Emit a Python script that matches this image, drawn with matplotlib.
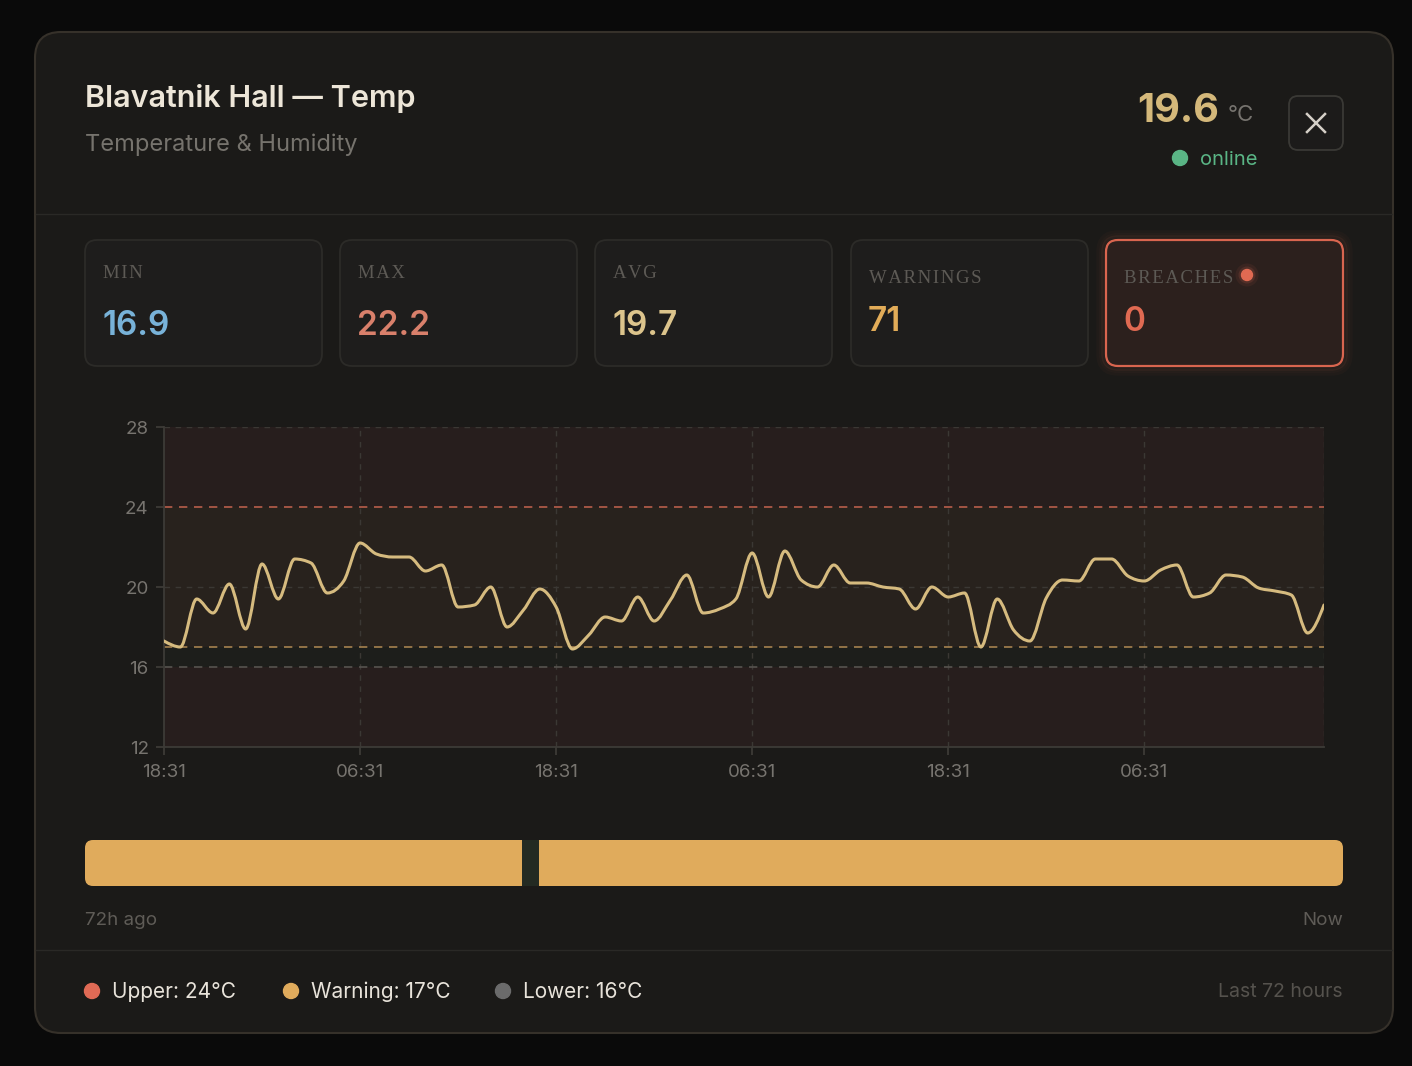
import numpy as np
import matplotlib
matplotlib.use("Agg")
import matplotlib.pyplot as plt
from matplotlib.patches import FancyBboxPatch, Circle, PathPatch
from matplotlib.path import Path

# --- datos ---
horas = list(range(72))
temperaturas = [17.3, 17.0, 19.4, 18.7, 20.15, 17.9, 21.15, 19.4, 21.4, 21.2,
                19.7, 20.3, 22.2, 21.65, 21.5, 21.5, 20.8, 21.1, 19.0, 19.1,
                20.0, 18.0, 18.85, 19.9, 19.0, 16.9, 17.6, 18.5, 18.3, 19.5,
                18.3, 19.35, 20.6, 18.7, 18.9, 19.4, 21.7, 19.5, 21.8, 20.35,
                20.0, 21.1, 20.2, 20.2, 20.0, 19.9, 18.9, 20.0, 19.5, 19.7,
                17.0, 19.4, 17.85, 17.3, 19.45, 20.35, 20.3, 21.4, 21.4, 20.55,
                20.3, 20.85, 21.1, 19.5, 19.7, 20.6, 20.5, 19.95, 19.8, 19.6,
                17.7, 19.1]
estado = ["warn"] * 25 + ["ok"] + ["warn"] * 46

ticks_x = [0, 12, 24, 36, 48, 60]
etiquetas_x = ["18:31", "06:31", "18:31", "06:31", "18:31", "06:31"]
ticks_y = [12, 16, 20, 24, 28]

limite_sup = 24
limite_aviso = 17
limite_inf = 16

tarjetas = ["MIN", "MAX", "AVG", "WARNINGS", "BREACHES"]
valores_tarjetas = ["16.9", "22.2", "19.7", "71", "0"]
colores_tarjetas = ["#78b2d8", "#d9806b", "#dcc48c", "#e2ac58", "#e06a52"]

W, H = 1412, 1066
FUENTE = ["Inter", "DejaVu Sans"]
SERIF = ["Liberation Serif", "DejaVu Serif"]

plt.rcParams["font.family"] = FUENTE

fig = plt.figure(figsize=(W / 100, H / 100), dpi=100)
fig.patch.set_facecolor("#0a0a0a")

# capa de fondo en pixeles
bg = fig.add_axes([0, 0, 1, 1], zorder=0)
bg.set_xlim(0, W)
bg.set_ylim(H, 0)
bg.axis("off")


def caja(x0, y0, x1, y1, r, fc, ec, lw=1.0, z=1, alpha=1.0):
    p = FancyBboxPatch((x0 + r, y0 + r), (x1 - x0) - 2 * r, (y1 - y0) - 2 * r,
                       boxstyle=f"round,pad={r}", fc=fc, ec=ec, lw=lw,
                       zorder=z, alpha=alpha)
    bg.add_patch(p)
    return p


def espaciado(txt):
    # separacion entre letras como en las etiquetas de las tarjetas
    return "\u200a".join(txt)


# modal
caja(35, 32, 1393, 1033, 26, "#1b1a18", "#36312a", lw=1.5)
bg.plot([36, 1392], [214, 214], color="#2a2926", lw=1.0, zorder=2)
bg.plot([36, 1392], [950, 950], color="#2a2926", lw=1.0, zorder=2)

# cabecera
bg.text(85, 107, "Blavatnik Hall \u2014 Temp", fontsize=22, fontweight="semibold",
        color="#ede6d8", va="baseline", ha="left", zorder=3)
bg.text(85, 151, "Temperature & Humidity", fontsize=17, color="#76736d",
        va="baseline", ha="left", zorder=3)
bg.text(1219, 122, "19.6", fontsize=28.5, fontweight="bold", color="#d4b87a",
        va="baseline", ha="right", zorder=3)
bg.text(1228, 121, "\u00b0C", fontsize=16, color="#77746f", va="baseline",
        ha="left", zorder=3)
bg.add_patch(Circle((1180, 158), 7.5, color="#5ab585", zorder=3))
bg.text(1200, 165, "online", fontsize=14.5, color="#5ab585", va="baseline",
        ha="left", zorder=3)
caja(1289, 96, 1343, 150, 9, "#1c1b1a", "#3a3935", lw=1.3, z=3)
bg.plot([1307, 1325], [114, 132], color="#d5d0c8", lw=1.8, zorder=4)
bg.plot([1307, 1325], [132, 114], color="#d5d0c8", lw=1.8, zorder=4)

# tarjetas
xs_tarjeta = [85, 340, 595, 851, 1106]
for i, nombre in enumerate(tarjetas):
    x0 = xs_tarjeta[i]
    x1 = x0 + 237
    if nombre == "BREACHES":
        for k, a in zip([8, 5, 3], [0.03, 0.05, 0.08]):
            caja(x0 - k, 240 - k, x1 + k, 366 + k, 12 + k, "none", "#e06a52",
                 lw=2.5, z=2, alpha=a)
        caja(x0, 240, x1, 366, 12, "#2c201d", "#d9654f", lw=1.6, z=3)
    else:
        caja(x0, 240, x1, 366, 12, "#1e1d1c", "#2c2b28", lw=1.3, z=3)
    y_lab, y_val = (278, 335) if i < 3 else (283, 331)
    bg.text(x0 + 18, y_lab, espaciado(nombre), fontsize=13.5, family=SERIF,
            color="#5d5a55", va="baseline", ha="left", zorder=4)
    bg.text(x0 + 17, y_val, valores_tarjetas[i], fontsize=24, fontweight="semibold",
            color=colores_tarjetas[i], va="baseline", ha="left", zorder=4)
for k, a in zip([6, 3], [0.08, 0.15]):
    bg.add_patch(Circle((1247, 275), 5.5 + k, color="#e06a52", alpha=a, lw=0, zorder=4))
bg.add_patch(Circle((1247, 275), 5.5, color="#e06a52", zorder=5))

# barra de estado
x_ini, x_fin = 85, 1343
paso = (x_fin - x_ini) / len(estado)
caja(x_ini, 840, x_fin, 886, 8, "#e0ab5c", "none", z=3)
for i, e in enumerate(estado):
    if e == "ok":
        bg.add_patch(plt.Rectangle((x_ini + i * paso, 840), paso, 46,
                                   color="#232a22", lw=0, zorder=4))
bg.text(85, 925, "72h ago", fontsize=13.5, color="#5f5c57", va="baseline",
        ha="left", zorder=4)
bg.text(1343, 925, "Now", fontsize=13.5, color="#5f5c57", va="baseline",
        ha="right", zorder=4)

# pie
leyenda = [("Upper: 24\u00b0C", "#e06a55", 92), ("Warning: 17\u00b0C", "#e0ab5c", 291),
           ("Lower: 16\u00b0C", "#6b6b6b", 503)]
for txt, col, xc in leyenda:
    bg.add_patch(Circle((xc, 991), 7.5, color=col, zorder=4))
    bg.text(xc + 20, 992, txt, fontsize=15, color="#e8e3da", va="center",
            ha="left", zorder=4)
bg.text(1343, 992, "Last 72 hours", fontsize=14, color="#55524d", va="center",
        ha="right", zorder=4)

# --- grafico ---
ax = fig.add_axes([164 / W, (H - 747) / H, 1160 / W, 320 / H], zorder=1)
ax.set_facecolor("none")
ax.set_xlim(0, 71)
ax.set_ylim(12, 28)

ax.axhspan(12, limite_inf, color="#271e1d", lw=0, zorder=0)
ax.axhspan(limite_inf, limite_aviso, color="#1d1e1b", lw=0, zorder=0)
ax.axhspan(limite_aviso, limite_sup, color="#28221d", lw=0, zorder=0)
ax.axhspan(limite_sup, 28, color="#271e1d", lw=0, zorder=0)

gris = "#3b3834"
for t in ticks_x[1:] + [71]:
    ax.axvline(t, color=gris, lw=1, ls=(0, (4, 4)), zorder=1)
for t in [20, 28]:
    ax.axhline(t, color=gris, lw=1, ls=(0, (4, 4)), zorder=1)
ax.axhline(limite_sup, color="#b85e4b", lw=1.2, ls=(0, (5, 4)), zorder=2)
ax.axhline(limite_aviso, color="#a5824f", lw=1.2, ls=(0, (5, 4)), zorder=2)
ax.axhline(limite_inf, color="#56534f", lw=1.2, ls=(0, (5, 4)), zorder=2)

# curva monotona (como d3 curveMonotoneX) con beziers
x = np.array(horas, dtype=float)
y = np.array(temperaturas, dtype=float)
n = len(x)
h = np.diff(x)
s = np.diff(y) / h
t = np.zeros(n)
for i in range(1, n - 1):
    p = (s[i - 1] * h[i] + s[i] * h[i - 1]) / (h[i - 1] + h[i])
    t[i] = (np.sign(s[i - 1]) + np.sign(s[i])) * min(abs(s[i - 1]), abs(s[i]), 0.5 * abs(p))
t[0] = (3 * s[0] - t[1]) / 2
t[-1] = (3 * s[-1] - t[-2]) / 2
verts = [(x[0], y[0])]
codes = [Path.MOVETO]
for i in range(n - 1):
    d = h[i] / 3
    verts += [(x[i] + d, y[i] + d * t[i]), (x[i + 1] - d, y[i + 1] - d * t[i + 1]),
              (x[i + 1], y[i + 1])]
    codes += [Path.CURVE4] * 3
ax.add_patch(PathPatch(Path(verts, codes), fc="none", ec="#d6bb7f", lw=2.2,
                       capstyle="round", joinstyle="round", zorder=3))

ax.set_xticks(ticks_x)
ax.set_xticklabels(etiquetas_x)
ax.set_yticks(ticks_y)
for lado in ["top", "right"]:
    ax.spines[lado].set_visible(False)
for lado in ["left", "bottom"]:
    ax.spines[lado].set_color("#3d3b37")
    ax.spines[lado].set_linewidth(1.3)
ax.tick_params(colors="#3d3b37", labelcolor="#77746f", labelsize=13.5,
               length=6, width=1.3)
ax.tick_params(axis="y", pad=5)
ax.tick_params(axis="x", pad=6)

fig.savefig("out.png", dpi=100, facecolor=fig.get_facecolor())
